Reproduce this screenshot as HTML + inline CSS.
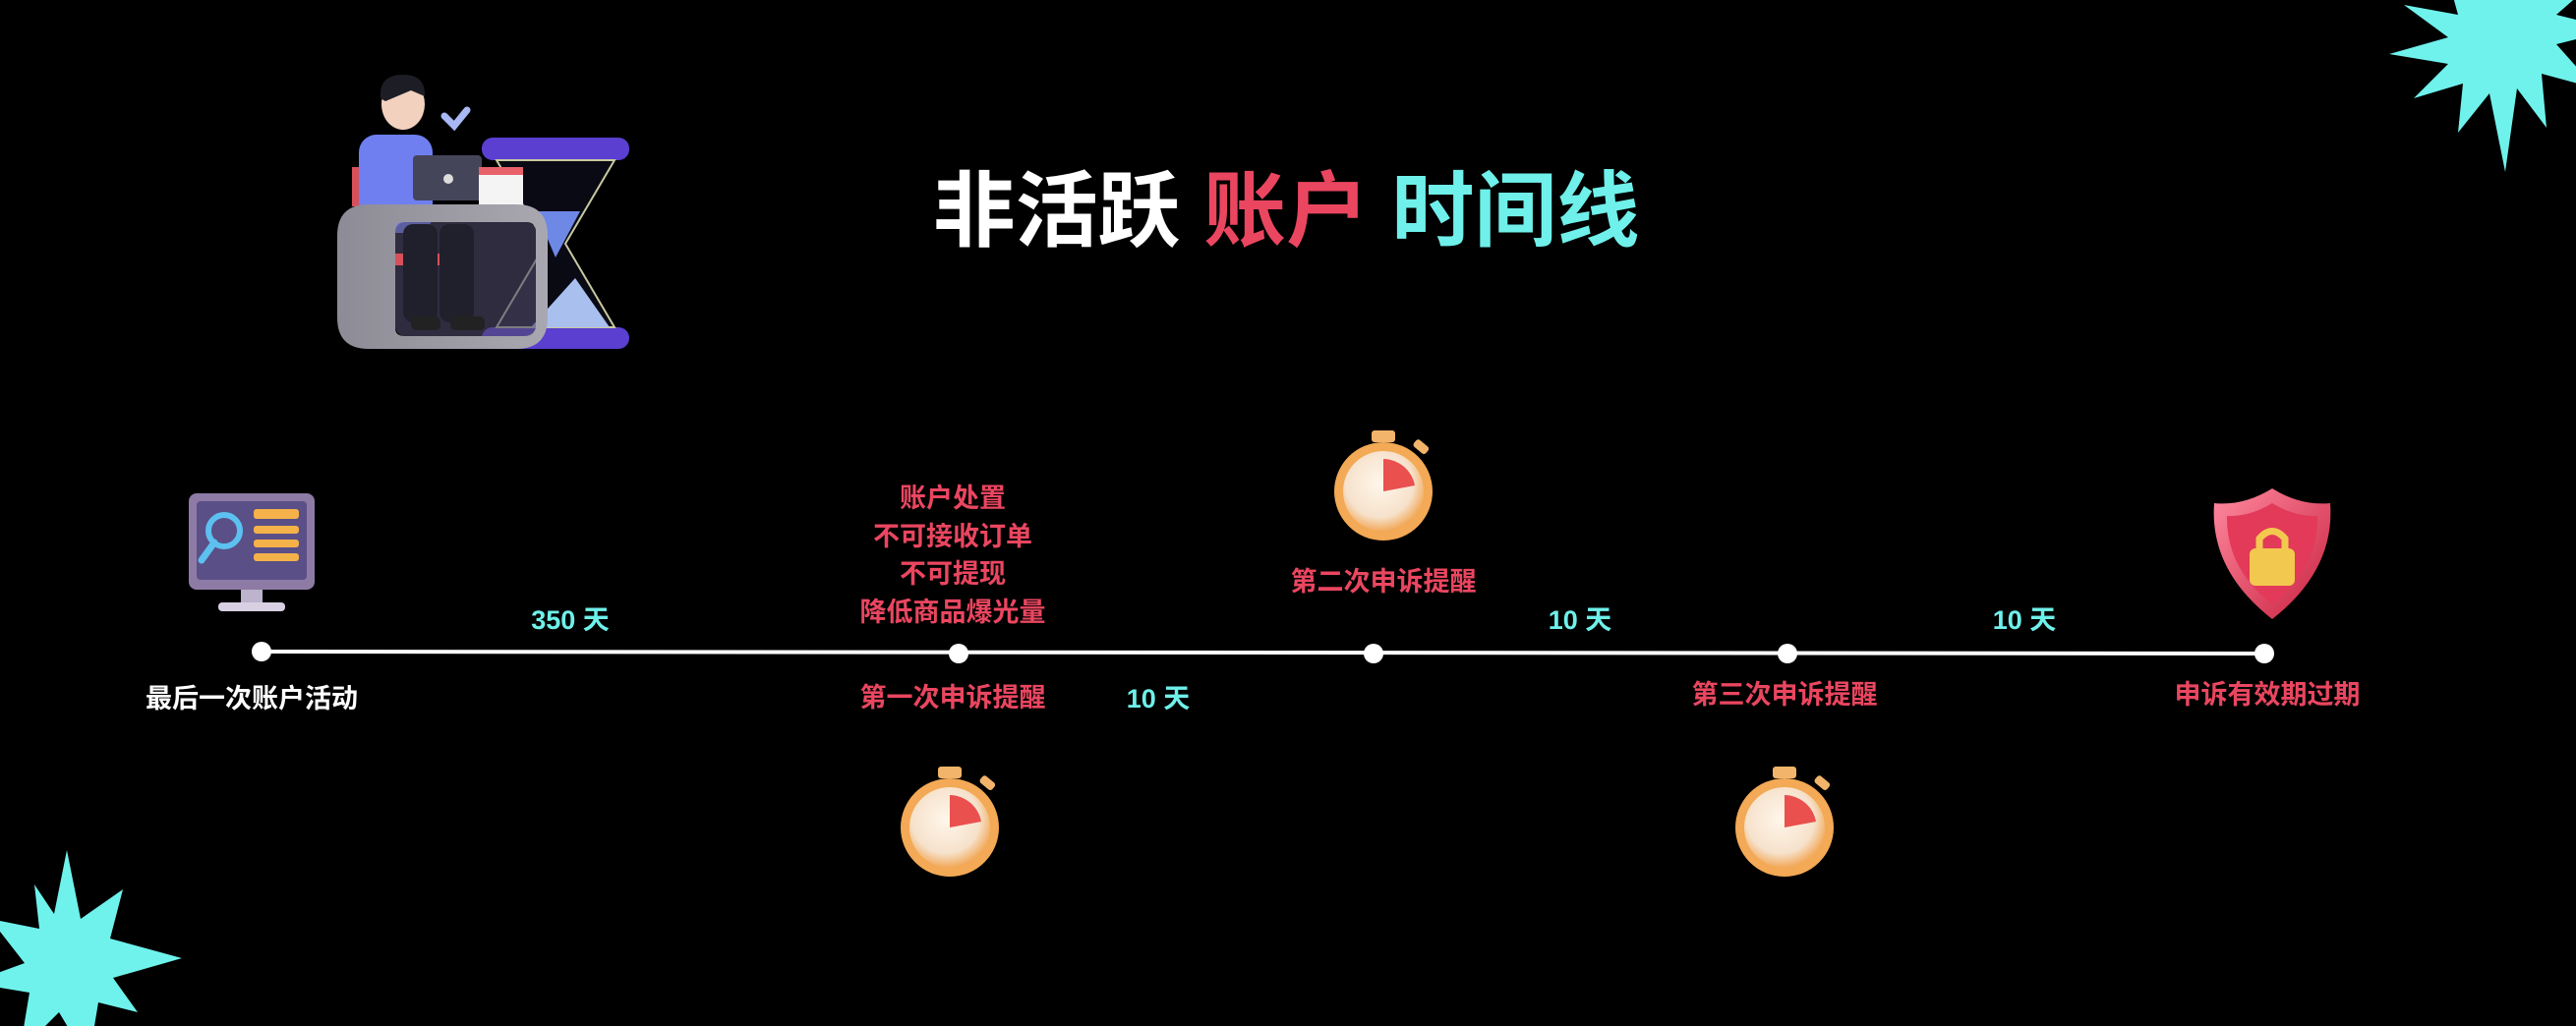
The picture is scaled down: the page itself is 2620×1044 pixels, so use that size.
<!DOCTYPE html>
<html><head><meta charset="utf-8"><style>
html,body{margin:0;padding:0;background:#000;}
svg{display:block;}
text{font-family:"Liberation Sans","Noto Sans CJK SC",sans-serif;font-weight:bold;}
</style></head><body>
<svg width="2620" height="1044" viewBox="0 0 2620 1044" xmlns="http://www.w3.org/2000/svg">
<defs>
<radialGradient id="sw" cx="45%" cy="40%" r="60%"><stop offset="0" stop-color="#fff6ea"/><stop offset="0.7" stop-color="#f6e2cc"/><stop offset="1" stop-color="#f2a95a"/></radialGradient>
<linearGradient id="sh" x1="0" y1="0" x2="1" y2="1"><stop offset="0" stop-color="#ff8aa0"/><stop offset="1" stop-color="#c8203e"/></linearGradient>
<linearGradient id="desk" x1="0" y1="0" x2="1" y2="0"><stop offset="0" stop-color="#8d8b95"/><stop offset="1" stop-color="#a9a7b0"/></linearGradient>
<g id="watch">
<rect x="-12" y="-62" width="24" height="12" rx="3" fill="#f2b46a"/>
<rect x="30" y="-50" width="16" height="9" rx="3" fill="#f2b46a" transform="rotate(40 38 -45)"/>
<circle r="50" fill="#f3a955"/>
<circle r="41" fill="url(#sw)"/>
<path d="M0 0 L0 -33 A33 33 0 0 1 32 -6 Z" fill="#e9504e"/>
</g>
</defs>
<polygon fill="#6ff2ec" points="2548,-70 2560,-20 2600,-60 2585,-8 2640,-20 2600,15 2660,30 2600,45 2640,90 2585,75 2590,130 2560,90 2548,175 2532,95 2500,135 2505,85 2455,100 2490,65 2430,55 2490,38 2445,5 2500,15 2485,-40 2525,-5"/>
<polygon fill="#6ff2ec" points="68,865 82,935 125,905 112,955 185,975 115,995 140,1030 100,1020 90,1080 60,1030 20,1070 30,1010 -30,1000 25,980 -10,935 40,945 35,900 55,930"/>
<rect x="490" y="140" width="150" height="23" rx="11" fill="#5a3fd0"/>
<rect x="490" y="333" width="150" height="22" rx="11" fill="#5a3fd0"/>
<polygon points="505,163 625,163 575,248 625,333 505,333 555,248" fill="#0a0a14" stroke="#c9c9a0" stroke-width="2"/>
<polygon points="545,215 590,215 565,262" fill="#6e88e6"/>
<polygon points="540,333 620,333 585,283" fill="#a9c0ef"/>
<path d="M452 118 L462 128 L475 112" stroke="#a8b8f4" stroke-width="7" fill="none" stroke-linecap="round"/>
<rect x="358" y="170" width="12" height="40" fill="#d8505a"/>
<rect x="365" y="137" width="75" height="100" rx="18" fill="#6f7ff0"/>
<ellipse cx="410" cy="106" rx="22" ry="26" fill="#f2d2bf"/>
<path d="M387 100 Q385 76 410 76 Q433 76 432 98 L418 92 L392 103 Z" fill="#1d1d26"/>
<rect x="420" y="158" width="70" height="46" rx="4" fill="#45455a"/>
<circle cx="456" cy="182" r="5" fill="#ddd"/>
<rect x="487" y="170" width="45" height="40" fill="#f4f4f4"/>
<rect x="487" y="170" width="45" height="8" fill="#e7606a"/>
<path d="M343 240 Q343 208 375 208 L525 208 Q557 208 557 240 L557 323 Q557 355 525 355 L375 355 Q343 355 343 323 Z M410 226 Q402 226 402 236 L402 334 Q402 342 412 342 L530 342 Q545 342 545 330 L545 236 Q545 226 535 226 Z" fill="url(#desk)" fill-rule="evenodd"/>
<rect x="402" y="226" width="143" height="116" rx="10" fill="#4f4a6a" opacity="0.6"/>
<rect x="402" y="258" width="60" height="12" fill="#d8505a"/>
<rect x="410" y="228" width="35" height="100" rx="10" fill="#20202c"/>
<rect x="447" y="228" width="35" height="100" rx="10" fill="#20202c"/>
<rect x="418" y="322" width="30" height="14" rx="5" fill="#222"/>
<rect x="458" y="322" width="35" height="14" rx="5" fill="#222"/>
<text x="1308" y="244" font-size="84" text-anchor="middle"><tspan fill="#ffffff">非活跃</tspan><tspan fill="#ea4660"> 账户 </tspan><tspan fill="#6ff0ea">时间线</tspan></text>
<line x1="266" y1="663" x2="2303" y2="665" stroke="#fff" stroke-width="4"/>
<g fill="#fff"><circle cx="266" cy="663" r="10"/><circle cx="975" cy="665" r="10"/><circle cx="1397" cy="665" r="10"/><circle cx="1818" cy="665" r="10"/><circle cx="2303" cy="665" r="10"/></g>
<g font-size="27" text-anchor="middle">
<text x="580" y="640" fill="#6ff0ea">350 天</text>
<text x="1178" y="720" fill="#6ff0ea">10 天</text>
<text x="1607" y="640" fill="#6ff0ea">10 天</text>
<text x="2059" y="640" fill="#6ff0ea">10 天</text>
<text x="256" y="720" fill="#fff">最后一次账户活动</text>
<g fill="#ea4660">
<text x="969" y="516">账户处置</text>
<text x="969" y="555">不可接收订单</text>
<text x="969" y="593">不可提现</text>
<text x="969" y="632">降低商品爆光量</text>
<text x="969" y="719">第一次申诉提醒</text>
<text x="1407" y="601">第二次申诉提醒</text>
<text x="1815" y="716">第三次申诉提醒</text>
<text x="2306" y="716">申诉有效期过期</text>
</g></g>
<use href="#watch" x="1407" y="500"/>
<use href="#watch" x="966" y="842"/>
<use href="#watch" x="1815" y="842"/>
<path d="M2311 497 Q2340 515 2370 512 Q2375 580 2311 630 Q2247 580 2252 512 Q2282 515 2311 497 Z" fill="url(#sh)"/>
<path d="M2311 512 Q2334 526 2357 525 Q2358 578 2311 615 Q2264 578 2265 525 Q2288 526 2311 512 Z" fill="#e23a58"/>
<path d="M2298 560 L2298 548 Q2311 533 2324 548 L2324 560" stroke="#f3c84f" stroke-width="7" fill="none"/>
<rect x="2288" y="558" width="46" height="38" rx="6" fill="#f3c84f"/>
<rect x="192" y="502" width="128" height="98" rx="8" fill="#8d7ba6"/>
<rect x="200" y="510" width="112" height="80" rx="4" fill="#5a4f86"/>
<rect x="245" y="600" width="22" height="15" fill="#bdb3cc"/>
<rect x="222" y="613" width="68" height="9" rx="4" fill="#d8d0e2"/>
<circle cx="228" cy="540" r="16" fill="none" stroke="#5cc0f0" stroke-width="6"/>
<line x1="218" y1="552" x2="205" y2="570" stroke="#5cc0f0" stroke-width="7" stroke-linecap="round"/>
<g fill="#f5b24a"><rect x="258" y="518" width="46" height="10" rx="3"/><rect x="258" y="535" width="46" height="8" rx="3"/><rect x="258" y="549" width="46" height="8" rx="3"/><rect x="258" y="563" width="46" height="8" rx="3"/></g>
</svg>
</body></html>
